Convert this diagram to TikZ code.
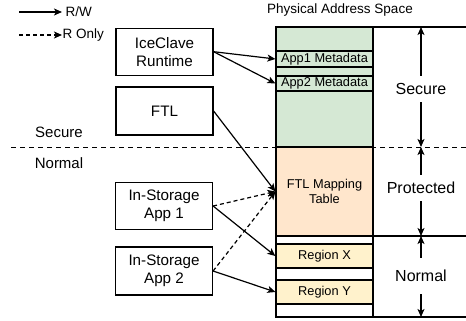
\documentclass[tikz,border=0pt]{standalone}
\usepackage{fontspec}
\setmainfont{Liberation Sans}
\usetikzlibrary{arrows.meta}
\definecolor{secgreen}{HTML}{D5E8D4}
\definecolor{protorange}{HTML}{FFE6CC}
\definecolor{normyellow}{HTML}{FFF2CC}
\begin{document}
\begin{tikzpicture}[x=1pt,y=-1pt,
  line width=1.2pt,
  >={Stealth[length=8pt,width=7pt,inset=2pt]},
  appbox/.style={draw,minimum width=97pt,minimum height=47pt,align=center,
    font=\fontsize{15.2}{18}\selectfont,inner sep=0pt},
  region/.style={draw,minimum width=97pt,inner sep=0pt,
    font=\fontsize{12.8}{15}\selectfont,align=center},
  sidelbl/.style={font=\fontsize{16}{18}\selectfont,inner sep=0pt,inner ysep=7pt},
  lgd/.style={font=\fontsize{13.5}{15}\selectfont,anchor=west,inner sep=0pt},
  rw/.style={->},
  ro/.style={->,dashed,dash pattern=on 4pt off 3pt}]
\useasboundingbox (0,0) rectangle (466,321);

% legend
\coordinate (l1a) at (19,12); \coordinate (l1b) at (62,12);
\coordinate (l2a) at (19,35); \coordinate (l2b) at (62,35);
\draw[rw] (l1a) -- (l1b);
\draw[ro] (l2a) -- (l2b);
\node[lgd] (lrw) at (65,12) {R/W};
\node[lgd] (lro) at (62,35) {R Only};

% title
\node[font=\fontsize{13.5}{15}\selectfont,inner sep=0pt] (title) at (340,10) {Physical Address Space};

% address space column
\node[draw,fill=secgreen,minimum width=97pt,minimum height=120pt,inner sep=0pt] (secreg) at (324.5,87) {};
\node[region,fill=secgreen,minimum height=16pt] (m1) at (324.5,59) {App1 Metadata};
\node[region,fill=secgreen,minimum height=15pt] (m2) at (324.5,83.5) {App2 Metadata};
\node[region,fill=protorange,minimum height=89pt] (map) at (324.5,191.5) {FTL Mapping\\Table};
\node[draw,fill=white,minimum width=97pt,minimum height=81pt,inner sep=0pt] (normreg) at (324.5,276.5) {};
\node[region,fill=normyellow,minimum height=24pt] (rx) at (324.5,256) {Region X};
\node[region,fill=normyellow,minimum height=24pt] (ry) at (324.5,292) {Region Y};

% right side boundaries
\coordinate (t0) at (373,27); \coordinate (t1) at (466,27);
\coordinate (b0) at (373,236); \coordinate (b1) at (466,236);
\coordinate (e0) at (373,317); \coordinate (e1) at (466,317);
\draw (t0) -- (t1);
\draw (b0) -- (b1);
\draw (e0) -- (e1);

% secure / normal divider
\coordinate (d0) at (11,147); \coordinate (d1) at (466,147);
\draw[dashed,dash pattern=on 5pt off 4pt,line width=0.9pt] (d0) -- (d1);
\draw (secreg.south west) -- (secreg.south east);
\node[font=\fontsize{15}{17}\selectfont,inner sep=0pt] (lsec) at (59,132) {Secure};
\node[font=\fontsize{15}{17}\selectfont,inner sep=0pt] (lnor) at (59,163) {Normal};

% side dimension arrows
\coordinate (a0) at (421,27); \coordinate (a1) at (421,147);
\coordinate (a2) at (421,236); \coordinate (a3) at (421,317);
\node[sidelbl] (ssec) at (421,89) {Secure};
\node[sidelbl] (sprot) at (421,188) {Protected};
\node[sidelbl,inner ysep=12pt] (snor) at (421,276) {Normal};
\draw[->] (ssec.north) -- (a0);
\draw[->] (ssec.south) -- (a1);
\draw[->] (sprot.north) -- (a1);
\draw[->] (sprot.south) -- (a2);
\draw[->] (snor.north) -- (a2);
\draw[->] (snor.south) -- (a3);

% left boxes
\node[appbox] (rt) at (164.5,51.7) {IceClave\\Runtime};
\node[appbox,minimum height=48pt] (ftl) at (164.5,111) {FTL};
\node[appbox] (app1) at (164,206) {In-Storage\\App 1};
\node[appbox,minimum height=48pt] (app2) at (164,271) {In-Storage\\App 2};

% connectors
\draw[rw] (rt.east) -- (m1.west);
\draw[rw] (rt.east) -- (m2.west);
\draw[rw] (ftl.east) -- (map.west);
\draw[ro] (app1.east) -- (map.west);
\draw[rw] (app1.east) -- (rx.west);
\draw[ro] (app2.east) -- (map.west);
\draw[rw] (app2.east) -- (ry.west);
\end{tikzpicture}
\end{document}
